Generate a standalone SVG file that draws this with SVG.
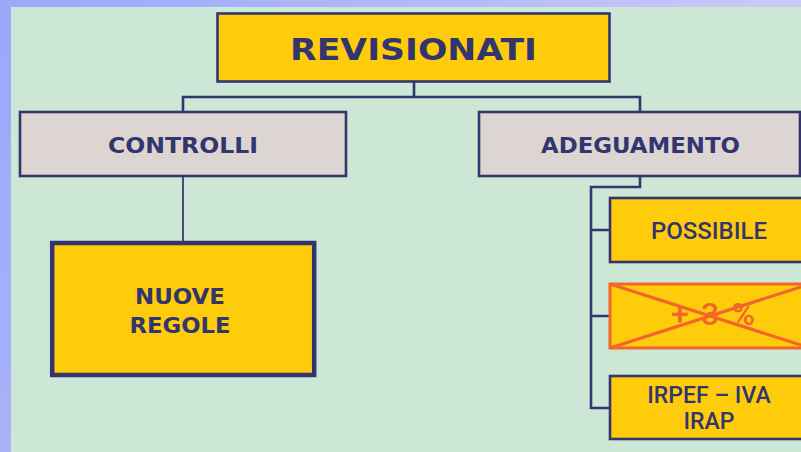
<svg xmlns="http://www.w3.org/2000/svg" width="801" height="452" viewBox="0 0 801 452">
  <defs>
    <linearGradient id="bgGrad" x1="0" y1="0" x2="1" y2="0.3">
      <stop offset="0" stop-color="#98a8fa"/>
      <stop offset="1" stop-color="#d0ccf8"/>
    </linearGradient>
    <style>
      .yel { fill: #fecc0b; stroke: #33356f; stroke-width: 2.6; }
      .gry { fill: #dcd5d2; stroke: #33356f; stroke-width: 2.6; }
      .t1 { font-family: "DejaVu Sans", Verdana, sans-serif; font-weight: bold; fill: #33356f; text-anchor: middle; }
      .t2 { font-family: Roboto, "Liberation Sans", sans-serif; font-weight: 500; fill: #33356f; text-anchor: middle; }
      .conn { fill: none; stroke: #33356f; stroke-width: 2.6; }
    </style>
  </defs>
  <rect x="0" y="0" width="801" height="452" fill="url(#bgGrad)"/>
  <rect x="11" y="7" width="790" height="445" fill="#cde7d6"/>

  <g id="connectors">
    <path class="conn" d="M414 82 V97 M183 111 V97 H640 V111"/>
    <path d="M183 177 V242" fill="none" stroke="#4a4c78" stroke-width="2"/>
    <path class="conn" d="M640 177 V187 H591 V316" stroke-width="3"/>
    <path class="conn" d="M591 316 V408 H609 M591 230 H609 M591 316 H609"/>
  </g>

  <g id="revisionati">
    <rect class="yel" x="217.5" y="13.5" width="392" height="68"/>
    <text class="t1" x="413.5" y="60" font-size="31" textLength="247" lengthAdjust="spacingAndGlyphs">REVISIONATI</text>
  </g>

  <g id="controlli">
    <rect class="gry" x="20" y="112" width="326" height="64"/>
    <text class="t1" x="183" y="153" font-size="21" textLength="150" lengthAdjust="spacingAndGlyphs">CONTROLLI</text>
  </g>

  <g id="adeguamento">
    <rect class="gry" x="479" y="112" width="321" height="64"/>
    <text class="t1" x="640.5" y="153" font-size="21" textLength="199" lengthAdjust="spacingAndGlyphs">ADEGUAMENTO</text>
  </g>

  <g id="nuove-regole">
    <rect x="52.2" y="243" width="262" height="132" fill="#fecc0b" stroke="#33356f" stroke-width="4.5"/>
    <text class="t1" x="180" y="304" font-size="22" textLength="90" lengthAdjust="spacingAndGlyphs">NUOVE</text>
    <text class="t1" x="180" y="333" font-size="22" textLength="101" lengthAdjust="spacingAndGlyphs">REGOLE</text>
  </g>

  <g id="possibile">
    <rect class="yel" x="610" y="198" width="200" height="64"/>
    <text class="t2" x="709" y="239" font-size="24">POSSIBILE</text>
  </g>

  <g id="piu-tre">
    <rect x="610" y="284" width="200" height="64" fill="#fecc0b" stroke="#f2662a" stroke-width="3"/>
    <text x="713" y="325" font-family="Roboto, 'Liberation Sans', sans-serif" font-weight="500" font-size="32" fill="#f2662a" text-anchor="middle" textLength="84" lengthAdjust="spacing">+ 3 %</text>
    <path d="M610 284 L810 348 M610 348 L810 284" stroke="#f2662a" stroke-width="3.2" fill="none"/>
  </g>

  <g id="irpef">
    <rect class="yel" x="610" y="376" width="200" height="63"/>
    <text class="t2" x="709" y="403" font-size="23">IRPEF – IVA</text>
    <text class="t2" x="709" y="429" font-size="23">IRAP</text>
  </g>
</svg>
